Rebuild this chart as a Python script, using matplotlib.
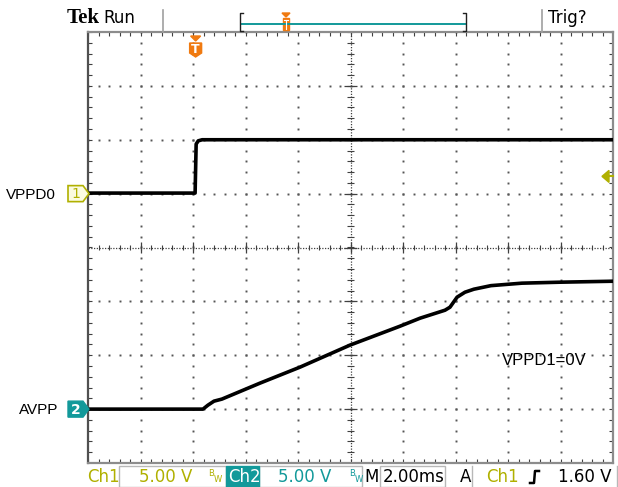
import matplotlib.pyplot as plt
import numpy as np
from matplotlib.patches import Polygon, Rectangle

# figure / screen geometry in pixels (x from left, y from top)
W, H = 618, 487
SX0, SX1, SY0, SY1 = 88, 613, 32, 463

# scope settings
ms_per_div = 2.0
ch1_volts_per_div = 5.0
ch2_volts_per_div = 5.0
ch1_offset_div = 1.0
ch2_offset_div = -3.0
trig_level = 1.6
trig_time = 4.1

# channel 1 (VPPD0), time in ms from left edge, volts
ch1_t = [0.0, 4.08, 4.12, 4.2, 4.35, 20.0]
ch1_v = [0.05, 0.05, 4.6, 4.9, 5.0, 5.0]

# channel 2 (AVPP)
ch2_t = [0.0, 4.38, 4.57, 4.8, 5.1, 6.55, 8.08, 9.98, 11.89, 12.65, 13.6,
         13.79, 14.06, 14.36, 14.7, 15.35, 16.53, 17.98, 20.0]
ch2_v = [0.0, 0.0, 0.37, 0.74, 0.93, 2.41, 3.9, 5.94, 7.7, 8.44, 9.18,
         9.46, 10.39, 10.85, 11.13, 11.46, 11.69, 11.78, 11.87]

ch1_color = '#b0b000'
ch2_color = '#12999a'
orange = '#f07a10'
grid_color = '#555555'

fig = plt.figure(figsize=(W / 100, H / 100), dpi=100)

# ---- scope screen ----
ax = fig.add_axes([SX0 / W, 1 - SY1 / H, (SX1 - SX0) / W, (SY1 - SY0) / H])
ax.set_xlim(0, 10)
ax.set_ylim(-4, 4)
ax.set_xticks([])
ax.set_yticks([])
for s in ax.spines.values():
    s.set_color('#8c8c8c')
    s.set_linewidth(1.6)
ax.spines['left'].set_color('#505050')

# dotted graticule
fine = np.arange(0, 10.001, 0.2)
fine_y = np.arange(-4, 4.001, 0.2)
for gx in range(1, 10):
    if gx == 5:
        continue
    ax.plot(np.full_like(fine_y, gx), fine_y, ls='none', marker='s', ms=1.4,
            mew=0, color=grid_color)
for gy in range(-3, 4):
    if gy == 0:
        continue
    ax.plot(fine, np.full_like(fine, gy), ls='none', marker='s', ms=1.4,
            mew=0, color=grid_color)

# center crosshair with minor ticks
ax.plot([0, 10], [0, 0], ls=(0, (1, 1.2)), lw=0.9, color='#404040')
ax.plot([5, 5], [-4, 4], ls=(0, (1, 1.2)), lw=0.9, color='#404040')
ax.vlines(fine, -0.05, 0.05, color='#404040', lw=0.8)
ax.hlines(fine_y, 4.93, 5.07, color='#404040', lw=0.8)
ax.vlines(np.arange(1, 10), -0.1, 0.1, color='#404040', lw=0.9)
ax.hlines(np.arange(-3, 4), 4.88, 5.12, color='#404040', lw=0.9)

# border ticks
ax.vlines(fine, 4 - 0.07, 4, color='#404040', lw=0.8)
ax.vlines(fine, -4, -4 + 0.07, color='#404040', lw=0.8)
ax.hlines(fine_y, 0, 0.07, color='#404040', lw=0.8)
ax.hlines(fine_y, 10 - 0.07, 10, color='#404040', lw=0.8)

# traces
x1 = np.array(ch1_t) / ms_per_div
y1 = np.array(ch1_v) / ch1_volts_per_div + ch1_offset_div
x2 = np.array(ch2_t) / ms_per_div
y2 = np.array(ch2_v) / ch2_volts_per_div + ch2_offset_div
ax.plot(x1, y1, color='black', lw=2.6, solid_joinstyle='round', zorder=5)
ax.plot(x2, y2, color='black', lw=2.6, solid_joinstyle='round', zorder=5)

ax.text(9.5, -2.1, 'VPPD1=0V', fontsize=12, family='Liberation Sans',
        ha='right', va='center')

# ---- pixel overlay for readouts and markers ----
ov = fig.add_axes([0, 0, 1, 1], facecolor='none', zorder=3)
ov.set_xlim(0, W)
ov.set_ylim(H, 0)
ov.axis('off')

def to_px_x(div):
    return SX0 + div * (SX1 - SX0) / 10

def to_px_y(div):
    return (SY0 + SY1) / 2 - div * (SY1 - SY0) / 8

sans = 'DejaVu Sans'

# header
ov.text(67, 18, 'Tek', fontsize=15, family='Liberation Serif', weight='bold',
        va='center')
ov.text(103, 18, 'Run', fontsize=12, family=sans, va='center')
ov.plot([163, 163], [10, 32], color='#a0a0a0', lw=1.2)
ov.plot([542, 542], [10, 32], color='#a0a0a0', lw=1.2)
ov.text(548, 18, 'Trig?', fontsize=12, family=sans, va='center')
ov.plot([241, 465], [24, 24], color=ch2_color, lw=1.4)
ov.plot([243, 240, 240, 243], [13, 13, 31, 31], color='#202020', lw=1)
ov.plot([463, 466, 466, 463], [13, 13, 31, 31], color='#202020', lw=1)
tx = 286
ov.add_patch(Polygon([[tx - 4, 13], [tx + 4, 13], [tx, 17]], color=orange))
ov.add_patch(Rectangle((tx - 3, 18), 6, 12, color=orange))
ov.plot([tx - 2, tx + 2], [20, 20], color='white', lw=0.8)
ov.plot([tx, tx], [20, 29], color='white', lw=0.8)

# trigger position marker on screen
px_t = to_px_x(trig_time / ms_per_div)
ov.add_patch(Polygon([[px_t - 5, 36], [px_t + 5, 36], [px_t, 41]], color=orange))
ov.add_patch(Polygon([[px_t - 6, 43], [px_t + 6, 43], [px_t + 6, 53],
                      [px_t, 57], [px_t - 6, 53]], color=orange))
ov.text(px_t, 49.5, 'T', color='white', fontsize=9, weight='bold',
        family=sans, ha='center', va='center')

# channel ground markers
g1 = to_px_y(ch1_offset_div)
g2 = to_px_y(ch2_offset_div)
ov.add_patch(Polygon([[68, g1 - 8], [83, g1 - 8], [89, g1], [83, g1 + 8],
                      [68, g1 + 8]], facecolor='#fbfbe0', edgecolor=ch1_color,
                     lw=1.2))
ov.text(76, g1 + 0.5, '1', color=ch1_color, fontsize=10, family=sans,
        ha='center', va='center')
ov.add_patch(Polygon([[68, g2 - 8], [83, g2 - 8], [89, g2], [83, g2 + 8],
                      [68, g2 + 8]], facecolor=ch2_color, edgecolor=ch2_color))
ov.text(76, g2 + 0.5, '2', color='white', fontsize=10, weight='bold',
        family=sans, ha='center', va='center')
ov.text(6, g1 + 1, 'VPPD0', fontsize=11, family='Liberation Sans', va='center')
ov.text(19, g2 + 1, 'AVPP', fontsize=11, family='Liberation Sans', va='center')

# trigger level arrow on right edge
tl = to_px_y(ch1_offset_div + trig_level / ch1_volts_per_div)
ov.add_patch(Polygon([[602, tl], [609, tl - 6], [609, tl + 6]], color=ch1_color))
ov.plot([608, 613], [tl, tl], color=ch1_color, lw=1.5)

# bottom readout
by = 477
for x0, x1b in [(119, 226), (259, 362), (380, 445)]:
    ov.add_patch(Rectangle((x0, 466), x1b - x0, 21, fill=False,
                           edgecolor='#b8b8b8', lw=1))
ov.plot([472, 472], [466, 487], color='#b8b8b8', lw=1)
ov.plot([617, 617], [466, 487], color='#b8b8b8', lw=1)
ov.text(87, by, 'Ch1', color=ch1_color, fontsize=12, family=sans, va='center')
ov.text(139, by, '5.00 V', color=ch1_color, fontsize=12, family=sans,
        va='center')
ov.text(208, by - 3, 'B', color=ch1_color, fontsize=6, family=sans, va='center')
ov.text(214, by + 2, 'W', color=ch1_color, fontsize=6, family=sans, va='center')
ov.add_patch(Rectangle((226, 466), 33, 21, color=ch2_color))
ov.text(228, by, 'Ch2', color='white', fontsize=12, family=sans, va='center')
ov.text(278, by, '5.00 V', color=ch2_color, fontsize=12, family=sans,
        va='center')
ov.text(349, by - 3, 'B', color=ch2_color, fontsize=6, family=sans, va='center')
ov.text(355, by + 2, 'W', color=ch2_color, fontsize=6, family=sans, va='center')
ov.text(364, by, 'M', fontsize=12, family=sans, va='center')
ov.text(383, by, '%.2fms' % ms_per_div, fontsize=12, family=sans, va='center')
ov.text(460, by, 'A', fontsize=12, family=sans, va='center')
ov.text(486, by, 'Ch1', color=ch1_color, fontsize=12, family=sans,
        va='center')
ov.plot([530, 534, 535, 539], [by + 6, by + 6, by - 6, by - 6], color='black',
        lw=1.8)
ov.text(612, by, '%.2f V' % trig_level, fontsize=12, family=sans, ha='right',
        va='center')

fig.savefig('out.png', dpi=100)
